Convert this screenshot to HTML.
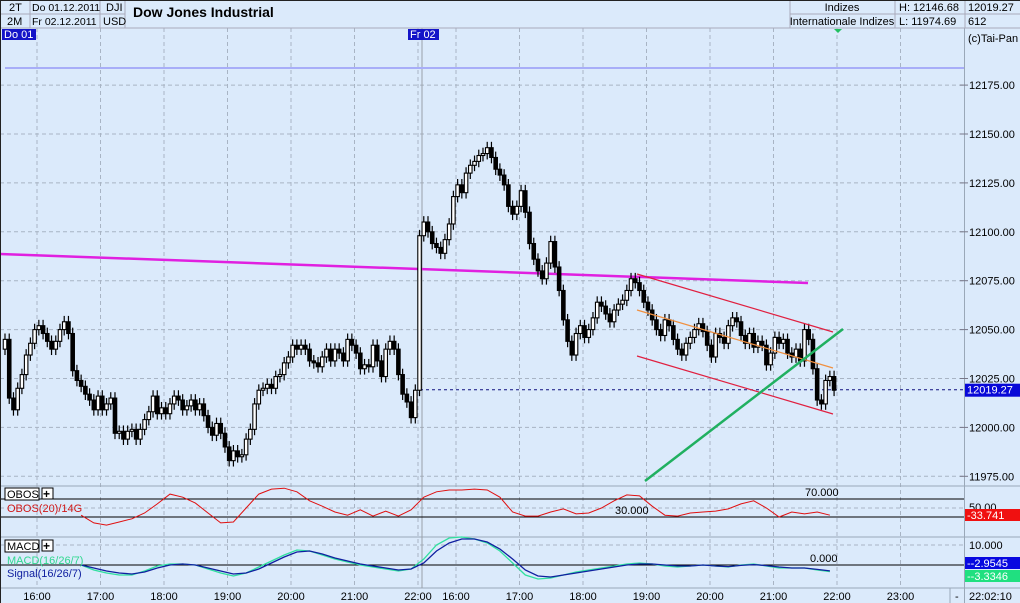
<!DOCTYPE html>
<html><head><meta charset="utf-8"><style>
body{margin:0;background:#dbeafb;}
svg{display:block;font-family:"Liberation Sans",sans-serif;}
</style></head><body>
<svg id="c" width="1020" height="603" viewBox="0 0 1020 603">
<rect x="0" y="0" width="1020" height="603" fill="#dbeafb"/>
<g id="grid"></g>
<g id="header" font-size="11">
<rect x="0" y="0" width="1020" height="28" fill="#dbeafb"/>
<line x1="0" y1="14" x2="125" y2="14" stroke="#aab"/>
<line x1="790" y1="14" x2="1020" y2="14" stroke="#aab"/>
<line x1="0" y1="28" x2="1020" y2="28" stroke="#aab"/>
<line x1="30" y1="0" x2="30" y2="28" stroke="#aab"/>
<line x1="100" y1="0" x2="100" y2="28" stroke="#aab"/>
<line x1="125" y1="0" x2="125" y2="28" stroke="#aab"/>
<line x1="790" y1="0" x2="790" y2="28" stroke="#aab"/>
<line x1="895" y1="0" x2="895" y2="28" stroke="#aab"/>
<line x1="965" y1="0" x2="965" y2="28" stroke="#aab"/>
<text x="9" y="11">2T</text>
<text x="7" y="25">2M</text>
<text x="32" y="11" font-size="10.5">Do 01.12.2011</text>
<text x="32" y="25" font-size="10.5">Fr 02.12.2011</text>
<text x="106" y="11">DJI</text>
<text x="103" y="25">USD</text>
<text x="133" y="17" font-size="14" font-weight="bold">Dow Jones Industrial</text>
<text x="842" y="11" text-anchor="middle">Indizes</text>
<text x="842" y="25" text-anchor="middle">Internationale Indizes</text>
<text x="899" y="11">H: 12146.68</text>
<text x="899" y="25">L: 11974.69</text>
<text x="968" y="11">12019.27</text>
<text x="968" y="25">612</text>
</g>
<g id="price"></g>
<g id="ind"></g>
<g id="axis" font-size="11"></g>
<line x1="0.5" y1="0" x2="0.5" y2="603" stroke="#222"/>
<line x1="0" y1="0.5" x2="1020" y2="0.5" stroke="#222"/>
</svg>
<script>
const closes1=[12045,12015,12009,12020,12027,12037,12043,12050,12052,12048,12044,12040,12044,12050,12054,12048,12029,12024,12021,12017,12014,12009,12016,12009,12012,12015,11997,11998,11994,11998,11999,11994,11999,12004,12008,12016,12007,12010,12007,12012,12016,12014,12009,12011,12014,12009,12012,12006,12000,11996,12002,11997,11990,11983,11988,11985,11986,11994,11999,12012,12019,12020,12022,12020,12026,12027,12033,12036,12042,12040,12042,12040,12034,12033,12031,12036,12040,12034,12040,12038,12034,12045,12042,12038,12030,12032,12031,12042,12034,12026,12040,12044,12040,12027,12017,12013,12005,12019];
const closes2=[12098,12105,12100,12094,12092,12089,12096,12104,12118,12124,12120,12130,12134,12136,12139,12140,12143,12138,12132,12129,12124,12113,12109,12113,12121,12110,12094,12086,12080,12076,12084,12095,12082,12070,12055,12044,12037,12048,12052,12046,12050,12056,12064,12062,12058,12054,12060,12063,12065,12070,12076,12074,12070,12064,12060,12055,12050,12047,12055,12052,12045,12040,12037,12043,12046,12050,12053,12049,12042,12036,12048,12046,12043,12052,12056,12054,12047,12043,12048,12041,12044,12042,12032,12038,12046,12043,12045,12038,12036,12040,12034,12050,12045,12030,12014,12012,12024,12026,12019];
const firstOpen=12040;
const priceTicks=[12175,12150,12125,12100,12075,12050,12025,12000,11975];
const lastPrice=12019.27;
const obosVals=[34,17,12,19,26,39,59,81,74,61,39,17,19,50,81,92,94,86,66,54,41,34,46,32,43,32,46,74,86,90,90,92,90,74,41,32,32,41,48,37,39,50,66,79,77,54,34,32,39,41,43,48,59,66,50,30,41,37,41,34];
const macdVals=[0,-2.5,-4,-5,-5,-3,-0.5,0.5,0.5,0,-2,-4,-5.5,-4,-1,2,5,7.5,7,5,3,1.5,0,-1,-2,-3,-2,3,10,13.5,14,13,11,7,1,-5,-7,-6.5,-5,-3.5,-2.5,-1.5,-0.5,0.5,1,0.5,-0.5,-1,-0.5,0,-0.5,-1,0,0.5,-0.5,-1.5,-1.5,-1.5,-2.5,-3.3];
const signalVals=[0,-1.5,-3,-4,-4.5,-3.5,-1.5,0,0.5,0,-1.5,-3,-4.5,-4,-2,1,4,6.5,7,5.5,3.5,2,0.5,-0.5,-1.5,-2.5,-2,1,7,11,13,13,11.5,8,3,-2.5,-5.5,-6,-5,-4,-3,-2,-1,0,0.5,0.5,0,-0.5,-0.5,0,-0.5,-0.8,-0.2,0.2,-0.3,-1,-1.5,-1.5,-2.2,-2.95];
const timeLabels1=["16:00","17:00","18:00","19:00","20:00","21:00","22:00"];
const timeLabels2=["16:00","17:00","18:00","19:00","20:00","21:00","22:00","23:00"];
const obosLast="33.741", macdLast="-2.9545", signalLast="-3.3346";

const NS="http://www.w3.org/2000/svg";
function mk(parent,tag,attrs,text){const e=document.createElementNS(NS,tag);for(const k in attrs)e.setAttribute(k,attrs[k]);if(text!==undefined)e.textContent=text;parent.appendChild(e);return e;}
const yP=v=>134+(12150-v)*1.956;
const xBar=n=>5+n*4.23;
const xInd=k=>xBar(18+3*k);
const yObos=v=>517-(v-30)*0.45;
const yMacd=v=>565-v*2;
const xHour1=k=>37+k*63.5, xHour2=k=>456+k*63.5;
const grid=document.getElementById('grid'),price=document.getElementById('price'),ind=document.getElementById('ind'),axis=document.getElementById('axis');

[...timeLabels1.map((t,k)=>xHour1(k)),...timeLabels2.map((t,k)=>xHour2(k))].forEach(x=>{
 const l=mk(grid,'line',{x1:x,y1:28,x2:x,y2:588,stroke:'#a8b4c4','stroke-dasharray':'4,3'});
 
 
});
priceTicks.forEach(v=>{
 const l=mk(grid,'line',{x1:0,y1:yP(v),x2:964,y2:yP(v),stroke:'#a8b4c4','stroke-dasharray':'4,3'});
 
 
});
[545,508].forEach(y=>{mk(grid,'line',{x1:0,y1:y,x2:964,y2:y,stroke:'#a8b4c4','stroke-dasharray':'4,3'});});
[486,537,588].forEach(y=>{mk(grid,'line',{x1:0,y1:y,x2:1020,y2:y,stroke:'#9aa8b8'});});
mk(grid,'line',{x1:422,y1:28,x2:422,y2:588,stroke:'#9aa0a8'});
mk(grid,'line',{x1:964.5,y1:28,x2:964.5,y2:603,stroke:'#9aa8b8'});

let e=mk(price,'line',{x1:5,y1:68,x2:964,y2:68,stroke:'#a8aef8','stroke-width':2});


e=mk(price,'line',{x1:0,y1:254,x2:808,y2:283,stroke:'#e020e0','stroke-width':2.5});


e=mk(price,'line',{x1:420,y1:yP(lastPrice),x2:964,y2:yP(lastPrice),stroke:'#101080','stroke-dasharray':'3,3'});



const closes=closes1.concat(closes2);
let prev=firstOpen;
closes.forEach((c,n)=>{
 const o=prev; prev=c;
 const x=xBar(n), hi=Math.max(o,c)+3, lo=Math.min(o,c)-3;
 const g=mk(price,'g',{});
 
 
 mk(g,'line',{x1:x,y1:yP(hi),x2:x,y2:yP(lo),stroke:'#000','stroke-width':1.2});
 const top=yP(Math.max(o,c)),h=Math.max(1.5,yP(Math.min(o,c))-top);
 mk(g,'rect',{x:x-1.75,y:top,width:3.5,height:h,fill:c>=o?'#fff':'#000',stroke:'#000','stroke-width':1.1});
});

e=mk(price,'line',{x1:637,y1:274,x2:833,y2:332,stroke:'#e02040','stroke-width':1.2});


e=mk(price,'line',{x1:637,y1:356,x2:833,y2:414,stroke:'#e02040','stroke-width':1.2});


e=mk(price,'line',{x1:637,y1:310,x2:833,y2:368,stroke:'#f09040','stroke-width':1.2});


e=mk(price,'line',{x1:645,y1:481,x2:843,y2:329,stroke:'#20b060','stroke-width':2.5});



mk(price,'rect',{x:2,y:29,width:34,height:11,fill:'#1414c8'});
mk(price,'text',{x:4,y:38,fill:'#fff','font-size':11},'Do 01');
mk(price,'rect',{x:408,y:29,width:31,height:11,fill:'#1414c8'});
mk(price,'text',{x:410,y:38,fill:'#fff','font-size':11},'Fr 02');
mk(price,'polygon',{points:'834,29 842,29 838,33',fill:'#20c060'});
mk(price,'text',{x:968,y:42,'font-size':11},'(c)Tai-Pan');

priceTicks.forEach(v=>{
 mk(axis,'line',{x1:960,y1:yP(v),x2:968,y2:yP(v),stroke:'#778'});
 const t=mk(axis,'text',{x:969,y:yP(v)+4},v.toFixed(2));
 
 
});
mk(axis,'rect',{x:965,y:yP(lastPrice)-6,width:55,height:13,fill:'#0808d8'});
e=mk(axis,'text',{x:967,y:yP(lastPrice)+4,fill:'#fff'},lastPrice.toFixed(2));



mk(ind,'line',{x1:0,y1:yObos(70),x2:964,y2:yObos(70),stroke:'#000'});
mk(ind,'line',{x1:0,y1:yObos(30),x2:964,y2:yObos(30),stroke:'#000'});
mk(ind,'text',{x:805,y:yObos(70)-3,'font-size':11},'70.000');
mk(ind,'text',{x:615,y:yObos(30)-3,'font-size':11},'30.000');
let d=obosVals.map((v,k)=>(k?'L':'M')+xInd(k).toFixed(1)+','+yObos(v).toFixed(1)).join(' ');
e=mk(ind,'path',{d:d,fill:'none',stroke:'#e01010','stroke-width':1});


mk(ind,'rect',{x:5,y:488,width:34,height:12,fill:'#fff',stroke:'#000'});
mk(ind,'text',{x:7,y:498,'font-size':11},'OBOS');
e=mk(ind,'rect',{x:42,y:488,width:11,height:11,fill:'#fff',stroke:'#000'});


mk(ind,'text',{x:43,y:498,'font-size':12,'font-weight':'bold'},'+');
mk(ind,'text',{x:7,y:512,'font-size':11,fill:'#d01818'},'OBOS(20)/14G');
mk(ind,'text',{x:969,y:511,'font-size':11},'50.00');
mk(ind,'rect',{x:965,y:509,width:55,height:12,fill:'#f01010'});
mk(ind,'text',{x:967,y:519,'font-size':11,fill:'#fff'},'-'+obosLast);

mk(ind,'line',{x1:0,y1:yMacd(0),x2:964,y2:yMacd(0),stroke:'#000'});
mk(ind,'text',{x:810,y:yMacd(0)-3,'font-size':11},'0.000');
d=macdVals.map((v,k)=>(k?'L':'M')+xInd(k).toFixed(1)+','+yMacd(v).toFixed(1)).join(' ');
e=mk(ind,'path',{d:d,fill:'none',stroke:'#30e0a0','stroke-width':1.3});


d=signalVals.map((v,k)=>(k?'L':'M')+xInd(k).toFixed(1)+','+yMacd(v).toFixed(1)).join(' ');
e=mk(ind,'path',{d:d,fill:'none',stroke:'#1020a0','stroke-width':1.3});


mk(ind,'rect',{x:5,y:540,width:34,height:12,fill:'#fff',stroke:'#000'});
mk(ind,'text',{x:7,y:550,'font-size':11},'MACD');
e=mk(ind,'rect',{x:42,y:540,width:11,height:11,fill:'#fff',stroke:'#000'});


mk(ind,'text',{x:43,y:550,'font-size':12,'font-weight':'bold'},'+');
mk(ind,'text',{x:7,y:564,'font-size':11,fill:'#30d890'},'MACD(16/26/7)');
mk(ind,'text',{x:7,y:577,'font-size':11,fill:'#1020a0'},'Signal(16/26/7)');
mk(ind,'text',{x:969,y:549,'font-size':11},'10.000');
mk(ind,'rect',{x:965,y:557,width:55,height:12,fill:'#0808e0'});
mk(ind,'text',{x:967,y:567,'font-size':11,fill:'#fff'},'-'+macdLast);
mk(ind,'rect',{x:965,y:570,width:55,height:12,fill:'#20e080'});
mk(ind,'text',{x:967,y:580,'font-size':11,fill:'#fff'},'-'+signalLast);

timeLabels1.forEach((t,k)=>{const s=mk(axis,'text',{x:xHour1(k),y:600,'text-anchor':'middle'},t);});
timeLabels2.forEach((t,k)=>{const s=mk(axis,'text',{x:xHour2(k),y:600,'text-anchor':'middle'},t);});
mk(axis,'line',{x1:950,y1:588,x2:950,y2:603,stroke:'#9aa8b8'});
mk(axis,'text',{x:955,y:600},'-');
mk(axis,'text',{x:969,y:600},'22:02:10');
</script>
</body></html>
